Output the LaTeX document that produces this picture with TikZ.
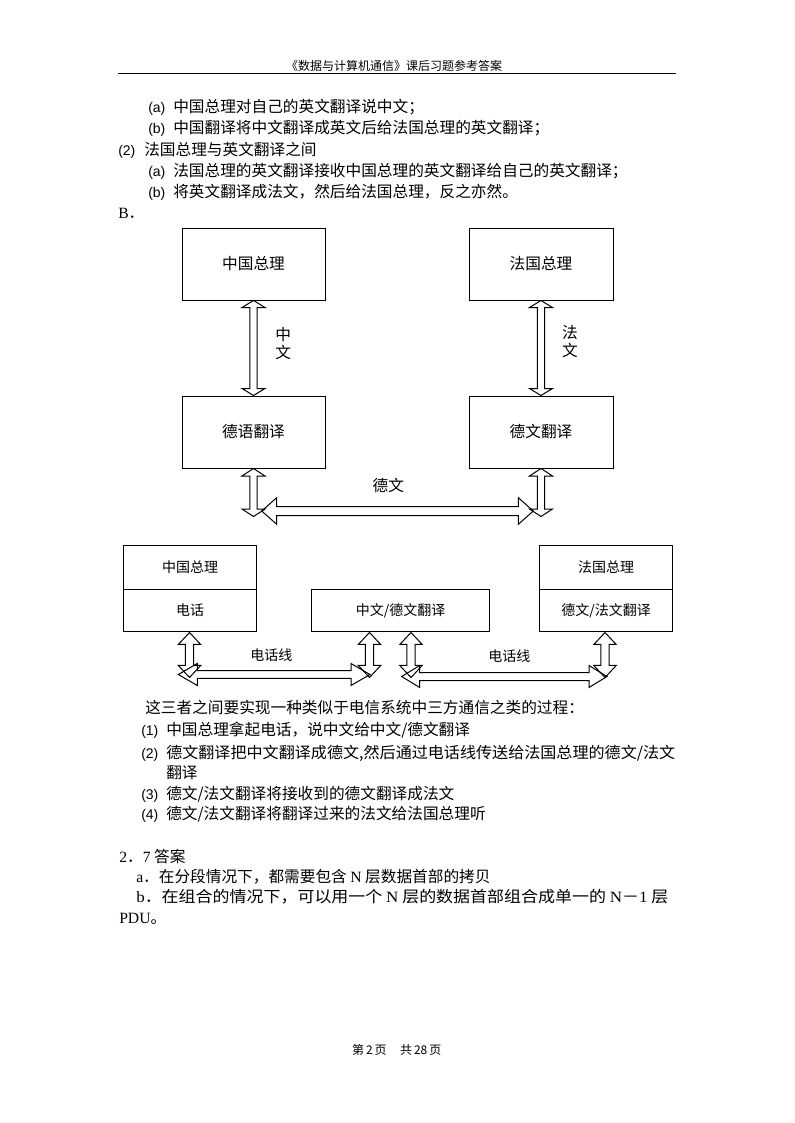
\documentclass[tikz,border=0pt]{standalone}
\usepackage{fontspec}
\usepackage{graphicx}
\setmainfont{Noto Sans CJK SC}
\newfontfamily\lat{Liberation Sans}
\newfontfamily\ser{Liberation Serif}
\usetikzlibrary{calc}
\newcommand{\myvarrow}[5]{\draw[blk] let \p1=(#1), \p2=(#2) in
 (\x1,\y1) -- (\x1+#4*0.75pt,\y1-#5*0.75pt) -- (\x1+#3*0.75pt,\y1-#5*0.75pt) -- (\x1+#3*0.75pt,\y2+#5*0.75pt) -- (\x1+#4*0.75pt,\y2+#5*0.75pt) -- (\x1,\y2) -- (\x1-#4*0.75pt,\y2+#5*0.75pt) -- (\x1-#3*0.75pt,\y2+#5*0.75pt) -- (\x1-#3*0.75pt,\y1-#5*0.75pt) -- (\x1-#4*0.75pt,\y1-#5*0.75pt) -- cycle;}
\newcommand{\myharrow}[5]{\draw[blk] let \p1=(#1), \p2=(#2) in
 (\x1,\y1) -- (\x1+#5*0.75pt,\y1+#4*0.75pt) -- (\x1+#5*0.75pt,\y1+#3*0.75pt) -- (\x2-#5*0.75pt,\y1+#3*0.75pt) -- (\x2-#5*0.75pt,\y1+#4*0.75pt) -- (\x2,\y1) -- (\x2-#5*0.75pt,\y1-#4*0.75pt) -- (\x2-#5*0.75pt,\y1-#3*0.75pt) -- (\x1+#5*0.75pt,\y1-#3*0.75pt) -- (\x1+#5*0.75pt,\y1-#4*0.75pt) -- cycle;}
\newcommand{\lab}[2]{\makebox[#1][l]{\lat\fontsize{10.5pt}{12pt}\selectfont #2}}
\begin{document}
\begin{tikzpicture}[x=0.75pt,y=-0.75pt,
  txt/.style={anchor=west, inner sep=0pt, text height=0.88em, text depth=0.12em, font=\fontsize{11.75pt}{14pt}\selectfont},
  hdr/.style={inner sep=0pt, text height=0.88em, text depth=0.12em, font=\fontsize{9pt}{11pt}\selectfont},
  box/.style={draw, line width=0.75pt, inner sep=0pt, text height=0.88em, text depth=0.12em, font=\fontsize{11.75pt}{14pt}\selectfont},
  sbox/.style={draw, line width=0.75pt, inner sep=0pt, text height=0.88em, text depth=0.12em, font=\fontsize{10.5pt}{12pt}\selectfont},
  lbl/.style={inner sep=0pt, text height=0.88em, text depth=0.12em, font=\fontsize{11.75pt}{14pt}\selectfont},
  slbl/.style={inner sep=0pt, text height=0.88em, text depth=0.12em, font=\fontsize{10.5pt}{12pt}\selectfont},
  blk/.style={draw, line width=0.75pt, line join=miter},
]
\useasboundingbox[fill=white] (0,0) rectangle (794,1123);

% header
\node[hdr] (head) at (394,65) {《数据与计算机通信》课后习题参考答案};
\coordinate (ruleL) at (118,74);
\coordinate (ruleR) at (676,74);
\draw[line width=0.75pt] (ruleL) -- (ruleR);

% upper text
\node[txt] (t1) at (148,107.5) {\lab{18.75pt}{(a)}中国总理对自己的英文翻译说中文；};
\node[txt] (t2) at (148,128.5) {\lab{18.75pt}{(b)}中国翻译将中文翻译成英文后给法国总理的英文翻译；};
\node[txt] (t3) at (118,150) {\lab{19.5pt}{(2)}法国总理与英文翻译之间};
\node[txt] (t4) at (148,171.5) {\lab{18.75pt}{(a)}法国总理的英文翻译接收中国总理的英文翻译给自己的英文翻译；};
\node[txt] (t5) at (148,192.5) {\lab{18.75pt}{(b)}将英文翻译成法文，然后给法国总理，反之亦然。};
\node[txt] (t6) at (118,213) {{\ser B}．};

% upper diagram
\node[box, minimum width=107.25pt, minimum height=53.25pt] (cz) at (253.5,264.5) {中国总理};
\node[box, minimum width=108pt, minimum height=53.25pt] (fz) at (541,264.5) {法国总理};
\node[box, minimum width=107.25pt, minimum height=54pt] (dy) at (253.5,432) {德语翻译};
\node[box, minimum width=108pt, minimum height=54pt] (dw) at (541,432) {德文翻译};
\myvarrow{cz.south}{dy.north}{3.7}{11.5}{7}
\myvarrow{fz.south}{dw.north}{3.7}{11.5}{7}
\node[lbl] (lz1) at (283.3,335) {中};
\node[lbl] (lz2) at (283.3,353.3) {文};
\node[lbl] (lf1) at (570,333) {法};
\node[lbl] (lf2) at (570,351.7) {文};
\coordinate (dyb) at ($(dy.south)+(0,48)$);
\coordinate (dwb) at ($(dw.south)+(0,48)$);
\myvarrow{dy.south}{dyb}{3.7}{11.5}{7.5}
\myvarrow{dw.south}{dwb}{3.7}{11.5}{7.5}
\coordinate (hL) at (261.7,511);
\coordinate (hR) at (533.3,511);
\myharrow{hL}{hR}{4.5}{13.3}{15}
\node[lbl] (lde) at (388.3,486.7) {德文};

% lower diagram
\node[sbox, minimum width=100.05pt, minimum height=33.2pt] (cz2) at (190,567.2) {中国总理};
\node[sbox, minimum width=100.05pt, minimum height=32pt] (dh) at (190,610.65) {电话};
\node[sbox, minimum width=133.2pt, minimum height=32pt] (zw) at (400.5,610.65) {中文/德文翻译};
\node[sbox, minimum width=100.05pt, minimum height=33.2pt] (fz2) at (606,567.2) {法国总理};
\node[sbox, minimum width=100.05pt, minimum height=32pt] (dfw) at (606,610.65) {德文/法文翻译};
\coordinate (dhb) at ($(dh.south)+(-0.5,45)$);
\coordinate (dht) at ($(dh.south)+(-0.5,0)$);
\coordinate (zwL) at ($(zw.south)+(-31,0)$);
\coordinate (zwLb) at ($(zwL)+(0,45)$);
\coordinate (zwR) at ($(zw.south)+(10.5,0)$);
\coordinate (zwRb) at ($(zwR)+(0,45)$);
\coordinate (dft) at ($(dfw.south)+(-1,0)$);
\coordinate (dfb) at ($(dft)+(0,45)$);
\myvarrow{dht}{dhb}{4.2}{11.2}{12}
\myvarrow{zwL}{zwLb}{4.2}{11.2}{12}
\myvarrow{zwR}{zwRb}{4.2}{11.2}{12}
\myvarrow{dft}{dfb}{4.2}{11.2}{12}
\coordinate (l1) at (178.3,674.5);
\coordinate (l2) at (370,674.5);
\coordinate (r1) at (401.7,676.5);
\coordinate (r2) at (607,676.5);
\myharrow{l1}{l2}{3.8}{11}{19}
\myharrow{r1}{r2}{4}{11}{18}
\node[slbl] (dx1) at (271.3,655) {电话线};
\node[slbl] (dx2) at (509.3,656) {电话线};

% lower text
\node[txt] (b1) at (145,708.7) {这三者之间要实现一种类似于电信系统中三方通信之类的过程：};
\node[txt] (b2) at (141,730) {\lab{18.75pt}{(1)}中国总理拿起电话，说中文给中文/德文翻译};
\node[txt] (b3) at (141,753) {\lab{18.75pt}{(2)}\resizebox{381.75pt}{\height}{德文翻译把中文翻译成德文,然后通过电话线传送给法国总理的德文/法文}};
\node[txt] (b4) at (166,773) {翻译};
\node[txt] (b5) at (141,794) {\lab{18.75pt}{(3)}德文/法文翻译将接收到的德文翻译成法文};
\node[txt] (b6) at (141,814) {\lab{18.75pt}{(4)}德文/法文翻译将翻译过来的法文给法国总理听};
\node[txt] (b7) at (119,857) {{\ser 2}．{\ser 7} 答案};
\node[txt] (b8) at (136,877) {{\ser a}．在分段情况下，都需要包含 {\ser N} 层数据首部的拷贝};
\node[txt] (b9) at (136,897) {\resizebox{399pt}{\height}{{\ser b}．在组合的情况下，可以用一个 {\ser N} 层的数据首部组合成单一的 {\ser N}－{\ser 1} 层}};
\node[txt] (b10) at (119,918) {{\ser PDU}。};

% footer
\node[hdr] (foot) at (396.7,1049) {第\,2\,页\hspace{10pt}共\,28\,页};
\end{tikzpicture}
\end{document}
